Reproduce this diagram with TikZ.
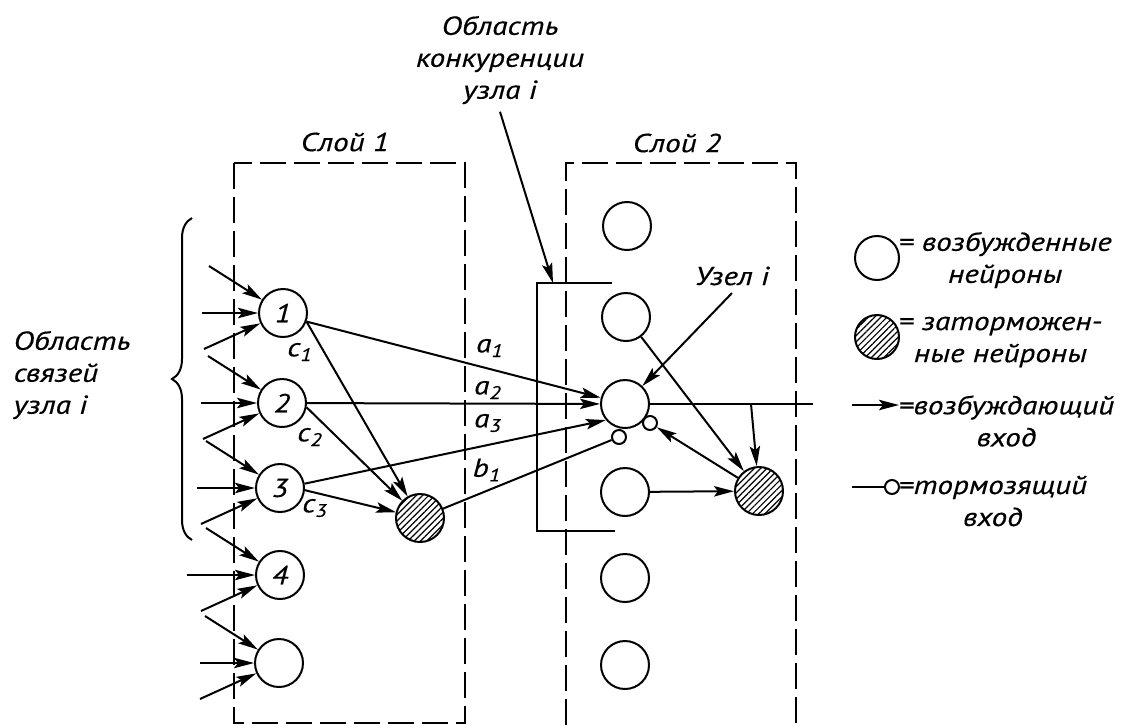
\documentclass[tikz,border=0pt]{standalone}
\usepackage{fontspec}
\setmainfont{PT Sans}[FakeStretch=1.2,FakeBold=0.4]
\usetikzlibrary{arrows.meta,patterns.meta,decorations.pathreplacing}

\tikzset{
  neuron/.style={circle,draw,line width=1pt,minimum size=24pt,inner sep=0pt,fill=white},
  blocked/.style={circle,draw,line width=1pt,minimum size=24pt,inner sep=0pt,
    pattern={Lines[angle=45,distance=2.2pt,line width=.6pt]}},
  inh/.style={circle,draw,line width=1pt,minimum size=7pt,inner sep=0pt,fill=white},
  exc/.style={line width=1pt,-{Stealth[length=10pt,width=5.2pt,inset=2pt]}},
  layerbox/.style={line width=1pt,dash pattern=on 13pt off 4pt},
  legtext/.style={align=center,anchor=west}
}

\begin{document}
\begin{tikzpicture}[x={(0.5pt,0)},y={(0,-0.5pt)},line width=1pt,
  font=\fontsize{13}{16}\selectfont\itshape]

		\useasboundingbox (0,0) rectangle (1131,725);

		%Layer boxes
		\draw[layerbox] (234,163) rectangle (465,723);
		\draw[layerbox] (566,725) |- (796,163) -- (796,725);
		\node (lay1) at (345,142) {Слой 1};
		\node (lay2) at (677,143) {Слой 2};

		%Layer 1 nodes
		\node[neuron] (n1) at (283,313) {1};
		\node[neuron] (n2) at (282,403) {2};
		\node[neuron] (n3) at (280,488) {3};
		\node[neuron] (n4) at (280,575) {4};
		\node[neuron] (n5) at (279,663) {};
		\node[blocked] (h1) at (420,518) {};

		%Inputs to layer 1
		\foreach \k/\dx in {1/81,2/81,3/83,4/93,5/79}{
			\draw[exc] ([shift={(-74,-47)}]n\k.center) -- (n\k);
			\draw[exc] ([shift={(-\dx,0)}]n\k.center) -- (n\k);
			\draw[exc] ([shift={(-79,36)}]n\k.center) -- (n\k);
		}

		%Brace and its label
		\draw[decorate,decoration={brace,amplitude=10pt}] (192,540) -- (192,218);
		\node[align=left,anchor=west] (lnk) at (6,375) {Область\\связей\\узла i};

		%Layer 2 nodes
		\node[neuron] (m1) at (627,226) {};
		\node[neuron] (m2) at (626,317) {};
		\node[neuron] (mi) at (625,404) {};
		\node[neuron] (m4) at (625,492) {};
		\node[neuron] (m5) at (625,578) {};
		\node[neuron] (m6) at (625,665) {};
		\node[blocked] (h2) at (759,491) {};

		%Connections from layer 1
		\draw[exc] (n1.-20) -- (mi);
		\draw[exc] (n1.-20) -- (h1);
		\draw[exc] (n2) -- (mi);
		\draw[exc] (n2.-10) -- (h1);
		\draw[exc] (n3.10) -- (mi.220);
		\draw[exc] (n3.-5) -- (h1);
		\node[inh] (s1) at (619,437) {};
		\draw (h1) -- (s1);
		\node (la1) at (490,348) {a\textsubscript{1}};
		\node (la2) at (488,390) {a\textsubscript{2}};
		\node (la3) at (488,423) {a\textsubscript{3}};
		\node (lb1) at (487,470) {b\textsubscript{1}};
		\node (lc1) at (300,352) {c\textsubscript{1}};
		\node (lc2) at (310,437) {c\textsubscript{2}};
		\node (lc3) at (315,508) {c\textsubscript{3}};

		%Competition region
		\coordinate (ctop) at (553,283);
		\draw (612,283) -| (537,531) -- (615,531);
		\node[align=center] (cmp) at (500,60) {Область\\конкуренции\\узла i};
		\draw[exc] (cmp.south) -- (ctop);

		%Connections inside layer 2
		\coordinate (out) at (813,404);
		\coordinate (tap) at (751,404);
		\node[inh] (s2) at (650,423) {};
		\draw (mi) -- (out);
		\draw[exc] (tap) -- (h2);
		\draw[exc] (m2) -- (h2);
		\draw[exc] (m4) -- (h2);
		\draw[exc] (h2) -- (s2);
		\node (nodei) at (732,276) {Узел i};
		\draw[exc] (nodei.south) -- (mi);

		%Legend
		\node[neuron,minimum size=22pt] (lgexc) at (877,258) {};
		\node[legtext] (lgexct) at (891,260) {= возбужденные\\нейроны};
		\node[blocked,minimum size=22pt] (lginh) at (877,337) {};
		\node[legtext] (lginht) at (891,342) {= заторможен-\\ные нейроны};
		\coordinate (lga0) at (852,405);
		\coordinate (lga1) at (899,405);
		\draw[exc] (lga0) -- (lga1);
		\node[legtext] (lgat) at (891,421) {=возбуждающий\\вход};
		\coordinate (lgb0) at (852,487);
		\node[inh] (lgb1) at (892,487) {};
		\draw (lgb0) -- (lgb1);
		\node[legtext] (lgbt) at (891,501) {=тормозящий\\вход};

	\end{tikzpicture}
\end{document}
